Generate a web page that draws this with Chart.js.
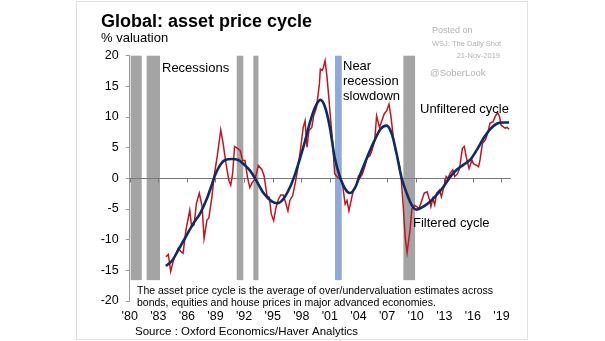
<!DOCTYPE html>
<html>
<head>
<meta charset="utf-8">
<script src="https://cdn.jsdelivr.net/npm/chart.js@4/dist/chart.umd.min.js"></script>
<style>
  html, body { margin: 0; padding: 0; background: #ffffff; }
  #wrap { position: relative; width: 605px; height: 341px; }
</style>
</head>
<body>
<div id="wrap"><canvas id="c" width="605" height="341"></canvas></div>
<script>
// Year axis ticks and their short labels
const tickYears = [1980, 1983, 1986, 1989, 1992, 1995, 1998, 2001, 2004, 2007, 2010, 2013, 2016, 2019];
const tickLabels = ["'80", "'83", "'86", "'89", "'92", "'95", "'98", "'01", "'04", "'07", "'10", "'13", "'16", "'19"];

// Unfiltered asset price cycle (% valuation)
const unfilteredYears = [
  1983.8, 1984.05, 1984.3, 1984.5, 1984.7, 1985.1, 1985.4, 1985.6, 1985.9, 1986.3,
  1986.5, 1986.75, 1987.0, 1987.3, 1987.6, 1987.8, 1988.1, 1988.3, 1988.6, 1988.9,
  1989.2, 1989.55, 1989.8, 1990.1, 1990.4, 1990.6, 1990.8, 1991.0, 1991.3, 1991.6,
  1991.85, 1992.1, 1992.35, 1992.6, 1992.85, 1993.15, 1993.5, 1993.85, 1994.1, 1994.4,
  1994.65, 1994.85, 1995.1, 1995.35, 1995.6, 1995.85, 1996.1, 1996.35, 1996.6, 1996.8,
  1997.1, 1997.35, 1997.6, 1997.9, 1998.2, 1998.4, 1998.6, 1998.8, 1999.1, 1999.3,
  1999.6, 1999.9, 2000.0, 2000.2, 2000.3, 2000.5, 2000.7, 2000.9, 2001.0, 2001.3,
  2001.5, 2001.8, 2002.05, 2002.3, 2002.6, 2002.8, 2003.0, 2003.3, 2003.5, 2003.75,
  2004.0, 2004.2, 2004.4, 2004.7, 2004.9, 2005.2, 2005.4, 2005.7, 2005.9, 2006.2,
  2006.45, 2006.7, 2006.95, 2007.2, 2007.4, 2007.65, 2007.9, 2008.15, 2008.3, 2008.5,
  2008.7, 2008.9, 2009.1, 2009.4, 2009.6, 2009.85, 2010.1, 2010.35, 2010.6, 2010.9,
  2011.2, 2011.45, 2011.6, 2011.8, 2012.0, 2012.2, 2012.5, 2012.7, 2013.0, 2013.2,
  2013.4, 2013.6, 2013.9, 2014.1, 2014.4, 2014.6, 2014.9, 2015.1, 2015.3, 2015.6,
  2015.9, 2016.05, 2016.3, 2016.6, 2016.75, 2017.0, 2017.3, 2017.55, 2017.8, 2018.1,
  2018.35, 2018.6, 2018.8, 2018.95, 2019.2, 2019.4, 2019.6, 2019.8
];
const unfilteredValues = [
  -12.8, -12.4, -15.2, -13.9, -12.8, -11.4, -12.0, -12.2, -8.4, -5.2,
  -7.9, -7.6, -4.1, -2.4, -4.6, -9.8, -6.8, -6.5, -3.3, 0.8,
  3.8, 7.9, 5.7, 2.4, -0.3, -1.1, 0.8, 5.2, 4.9, 4.5,
  2.9, 2.9, 0.2, -1.5, -0.7, -0.1, 2.1, 1.5, 0.4, -2.8,
  -3.1, -5.8, -6.9, -4.7, -3.4, -2.7, -2.7, -3.9, -5.3, -3.6,
  -2.8, -0.9, 1.25, 4.5, 8.3, 9.4, 5.1, 7.8, 8.3, 10.2,
  11.6, 15.4, 17.8, 17.6, 18.0, 19.2, 16.5, 13.0, 11.0, 5.6,
  0.7, 0.2, -0.1, -0.7, -4.2, -3.6, -5.3, -3.1, -1.7, -1.2,
  0.4, 0.2, 0.7, 2.1, 3.4, 3.7, 4.5, 6.1, 10.2, 8.3,
  9.4, 10.5, 11.0, 12.1, 10.2, 6.7, 4.5, 2.9, 2.1, -0.4,
  -4.7, -9.6, -12.1, -8.5, -5.0, -4.4, -4.6, -4.9, -3.8, -2.4,
  -2.2, -3.5, -4.6, -3.3, -4.3, -2.4, -1.9, -3.0, -1.1, 0.3,
  0.0, 0.8, 1.4, 0.3, 0.8, 1.6, 4.9, 5.2, 3.5, 1.6,
  3.0, 2.4, 2.2, 1.9, 3.0, 5.7, 6.25, 7.3, 9.0, 9.2,
  10.1, 10.7, 10.1, 8.7, 8.4, 8.2, 8.3, 8.0
];

// Filtered (smoothed) asset price cycle
const filteredYears = [
  1983.8, 1984.5, 1985.2, 1986.0, 1986.7, 1987.4, 1988.1, 1988.6, 1988.95, 1989.5,
  1990.0, 1990.7, 1991.4, 1992.1, 1992.6, 1993.15, 1994.0, 1994.9, 1995.5, 1996.1,
  1996.8, 1997.35, 1997.9, 1998.4, 1998.9, 1999.45, 2000.0, 2000.5, 2001.0, 2001.5,
  2002.07, 2002.6, 2003.1, 2003.65, 2004.2, 2004.9, 2005.6, 2006.3, 2006.95, 2007.5,
  2008.0, 2008.5, 2009.1, 2009.6, 2010.1, 2010.8, 2011.5, 2012.2, 2012.9, 2013.6,
  2014.3, 2015.0, 2015.7, 2016.4, 2017.1, 2017.8, 2018.5, 2019.2, 2019.8
];
const filteredValues = [
  -14.3, -13.3, -11.4, -9.2, -7.3, -5.7, -3.3, -1.1, 0.5, 2.2,
  3.0, 3.15, 3.0, 2.1, 1.3, 0.0, -2.3, -3.75, -4.05, -3.4,
  -1.5, 0.7, 3.4, 6.1, 9.1, 11.6, 12.8, 11.6, 8.3, 3.4,
  0.2, -1.7, -2.4, -1.5, 0.7, 3.4, 5.9, 8.0, 8.6, 7.2,
  4.0, 0.2, -2.6, -4.4, -5.1, -4.6, -3.8, -2.7, -1.4, 0.2,
  1.4, 2.2, 3.0, 4.6, 6.5, 8.0, 8.9, 9.1, 9.1
];

// Recession periods (grey) and the near-recession slowdown (blue)
const recessionStarts = [1980.1, 1981.78, 1991.23, 1992.97, 2008.71];
const recessionEnds   = [1981.26, 1983.18, 1991.92, 1993.5, 2009.94];
const slowdownStarts  = [2001.54];
const slowdownEnds    = [2002.24];

const FONT = '"Liberation Sans", Arial, Helvetica, sans-serif';

const bandsPlugin = {
  id: 'bands',
  beforeDatasetsDraw(chart) {
    const { ctx, scales: { x, y } } = chart;
    const top = y.getPixelForValue(20);
    const bottom = y.getPixelForValue(-16.6);
    ctx.save();
    const paint = (starts, ends, color) => {
      ctx.fillStyle = color;
      starts.forEach((s, i) => {
        const x0 = x.getPixelForValue(s);
        const x1 = x.getPixelForValue(ends[i]);
        ctx.fillRect(x0, top, x1 - x0, bottom - top);
      });
    };
    paint(recessionStarts, recessionEnds, '#a4a4a4');
    paint(slowdownStarts, slowdownEnds, '#8fa9dc');

    // zero line with year ticks hanging below it
    const y0 = Math.round(y.getPixelForValue(0)) + 0.5;
    ctx.strokeStyle = '#7a7a7a';
    ctx.lineWidth = 1;
    ctx.beginPath();
    ctx.moveTo(x.left, y0);
    ctx.lineTo(x.right, y0);
    tickYears.forEach(v => {
      const px = Math.round(x.getPixelForValue(v)) + 0.5;
      ctx.moveTo(px, y0);
      ctx.lineTo(px, y0 + 4);
    });
    ctx.stroke();
    ctx.restore();
  }
};

const textPlugin = {
  id: 'texts',
  afterDraw(chart) {
    const ctx = chart.ctx;
    ctx.save();
    // frame
    ctx.strokeStyle = '#e2e2e2';
    ctx.lineWidth = 1;
    ctx.strokeRect(76.5, 1.5, 451, 338);

    ctx.textBaseline = 'alphabetic';
    ctx.textAlign = 'left';
    ctx.fillStyle = '#000';
    ctx.font = 'bold 18px ' + FONT;
    ctx.fillText('Global: asset price cycle', 101, 26.5);
    ctx.font = '13px ' + FONT;
    ctx.fillText('% valuation', 101, 41.5);

    ctx.font = '13px ' + FONT;
    ctx.fillText('Recessions', 162, 71.5);
    ctx.fillText('Near', 343, 70);
    ctx.fillText('recession', 343, 85);
    ctx.fillText('slowdown', 343, 99.5);
    ctx.fillText('Unfiltered cycle', 420, 113);
    ctx.fillText('Filtered cycle', 413, 226.5);

    ctx.font = '10.5px ' + FONT;
    ctx.fillText('The asset price cycle is the average of over/undervaluation estimates across', 137, 293.5);
    ctx.fillText('bonds, equities and house prices in major advanced economies.', 137, 306);

    ctx.font = '11.5px ' + FONT;
    ctx.fillText('Source : Oxford Economics/Haver Analytics', 135, 335);

    // watermark
    ctx.fillStyle = '#b2b2b2';
    ctx.font = '9px ' + FONT;
    ctx.fillText('Posted on', 432, 32.5);
    ctx.font = '7.5px ' + FONT;
    ctx.fillText('WSJ: The Daily Shot', 432, 45.5);
    ctx.textAlign = 'right';
    ctx.fillText('21-Nov-2019', 500, 58);
    ctx.textAlign = 'left';
    ctx.font = '9.5px ' + FONT;
    ctx.fillText('@SoberLook', 430, 76);
    ctx.restore();
  }
};

const toPoints = (xs, ys) => xs.map((v, i) => ({ x: v, y: ys[i] }));

new Chart(document.getElementById('c'), {
  type: 'line',
  data: {
    datasets: [
      {
        label: 'Filtered cycle',
        data: toPoints(filteredYears, filteredValues),
        borderColor: '#0d2c63',
        borderWidth: 2.6,
        pointRadius: 0,
        tension: 0.4,
        cubicInterpolationMode: 'monotone',
        order: 1
      },
      {
        label: 'Unfiltered cycle',
        data: toPoints(unfilteredYears, unfilteredValues),
        borderColor: '#c0161e',
        borderWidth: 1.5,
        pointRadius: 0,
        tension: 0,
        order: 2
      }
    ]
  },
  options: {
    responsive: false,
    animation: false,
    devicePixelRatio: 1,
    layout: { padding: { left: 0, right: 94, top: 55.7, bottom: 0 } },
    plugins: { legend: { display: false }, tooltip: { enabled: false }, title: { display: false } },
    scales: {
      x: {
        type: 'linear',
        min: 1980,
        max: 2020,
        border: { display: false },
        grid: { display: false, drawTicks: false },
        afterBuildTicks(scale) { scale.ticks = tickYears.map(v => ({ value: v })); },
        afterFit(scale) { scale.height = 40; },
        ticks: {
          autoSkip: false,
          maxRotation: 0,
          padding: 8,
          color: '#000',
          font: { family: FONT, size: 12.5 },
          callback: (value, index) => tickLabels[index]
        }
      },
      y: {
        type: 'linear',
        min: -20,
        max: 20,
        border: { display: true, color: '#9a9a9a', width: 1 },
        grid: { drawOnChartArea: false, drawTicks: true, tickLength: 4, color: '#9a9a9a' },
        afterFit(scale) { scale.width = 129.7; },
        ticks: {
          stepSize: 5,
          padding: 7,
          color: '#000',
          font: { family: FONT, size: 12.5 }
        }
      }
    }
  },
  plugins: [bandsPlugin, textPlugin]
});
</script>
</body>
</html>
